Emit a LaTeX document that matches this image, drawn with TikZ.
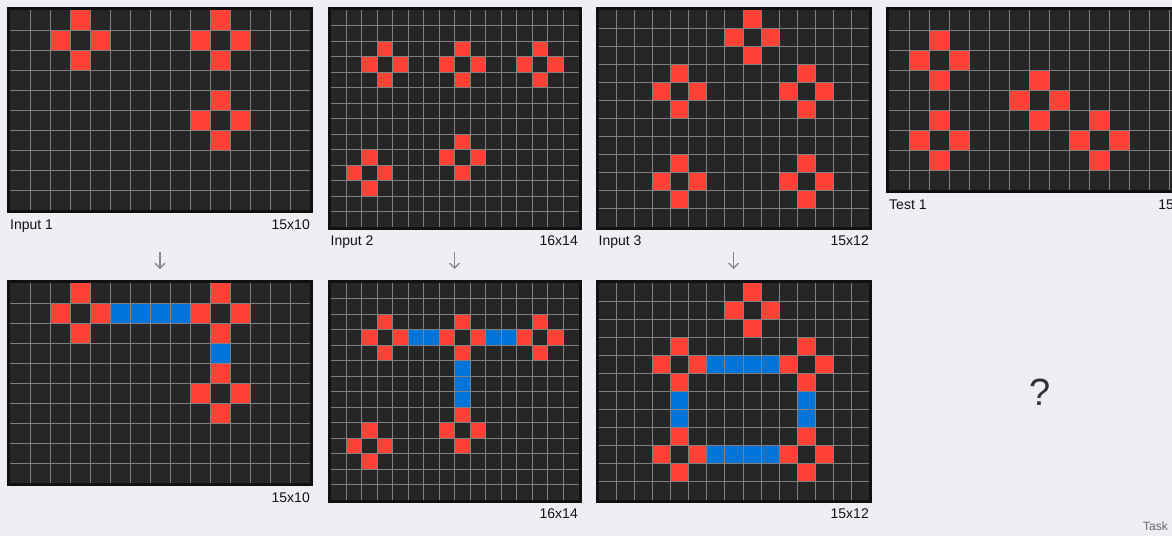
\documentclass[tikz,border=0pt]{standalone}
\usepackage{fontspec}
\setmainfont{Liberation Sans}
\usetikzlibrary{arrows.meta}
\definecolor{bg}{HTML}{EEEEF5}
\definecolor{cellbg}{HTML}{262626}
\definecolor{framec}{HTML}{111111}
\definecolor{gline}{HTML}{808080}
\definecolor{arcred}{HTML}{FF4136}
\definecolor{arcblue}{HTML}{0074D9}
\definecolor{txt}{HTML}{111111}
\definecolor{arrowc}{HTML}{888888}
\tikzset{
  lbl/.style={font=\fontsize{14}{16}\selectfont, text=txt, inner sep=0pt},
  downarrow/.style={draw=arrowc, line width=1.3pt, -{Straight Barb[length=5pt,width=10pt]}},
}
\newcommand\Cell[2]{\fill[arcred] (#2,#1) rectangle ++(1,1);}
\newcommand\Cross[2]{\Cell{#1-1}{#2}\Cell{#1+1}{#2}\Cell{#1}{#2-1}\Cell{#1}{#2+1}}
\newcommand\ArcGrid[7]{%
\begin{scope}[shift={(#2,#3)},x=#4pt,y=-#4pt]
  \coordinate (#1) at (0,0);
  \fill[framec] ([xshift=-3pt,yshift=3pt]0,0) rectangle ([xshift=3pt,yshift=-3pt]#5,#6);
  \fill[cellbg] (0,0) rectangle (#5,#6);
  #7
  \foreach \i in {1,...,#5}{\ifnum\i<#5 \draw[gline,line width=0.8pt] (\i,0) -- (\i,#6);\fi}
  \foreach \j in {1,...,#6}{\ifnum\j<#6 \draw[gline,line width=0.8pt] (0,\j) -- (#5,\j);\fi}
\end{scope}}
\begin{document}
\begin{tikzpicture}[x=1pt,y=-1pt]
\path[use as bounding box, fill=bg] (0,0) rectangle (1172,536);
\clip (0,0) rectangle (1172,536);

% Input 1 / Output 1
\ArcGrid{in1}{10}{10}{20}{15}{10}{\Cross{1}{3}\Cross{1}{10}\Cross{5}{10}}
\ArcGrid{out1}{10}{283}{20}{15}{10}{\Cross{1}{3}\Cross{1}{10}\Cross{5}{10}
  \fill[arcblue] (5,1) rectangle (9,2); \fill[arcblue] (10,3) rectangle (11,4);}
\node[lbl, anchor=base west] (l1) at (10,229) {Input 1};
\node[lbl, anchor=base east] (s1) at (310,229) {15x10};
\node[lbl, anchor=base east] (o1) at (310,502) {15x10};
\coordinate (a1s) at (160,252); \coordinate (a1e) at (160,269);
\draw[downarrow] (a1s) -- (a1e);

% Input 2 / Output 2
\ArcGrid{in2}{330.5}{10}{15.5}{16}{14}{\Cross{3}{3}\Cross{3}{8}\Cross{3}{13}\Cross{9}{8}\Cross{10}{2}}
\ArcGrid{out2}{330.5}{283}{15.5}{16}{14}{\Cross{3}{3}\Cross{3}{8}\Cross{3}{13}\Cross{9}{8}\Cross{10}{2}
  \fill[arcblue] (5,3) rectangle (7,4); \fill[arcblue] (10,3) rectangle (12,4);
  \fill[arcblue] (8,5) rectangle (9,8);}
\node[lbl, anchor=base west] (l2) at (330.5,245) {Input 2};
\node[lbl, anchor=base east] (s2) at (578,245) {16x14};
\node[lbl, anchor=base east] (o2) at (578,518) {16x14};
\coordinate (a2s) at (454.5,252); \coordinate (a2e) at (454.5,269);
\draw[downarrow] (a2s) -- (a2e);

% Input 3 / Output 3
\ArcGrid{in3}{598.5}{10}{18.05}{15}{12}{\Cross{1}{8}\Cross{4}{4}\Cross{4}{11}\Cross{9}{4}\Cross{9}{11}}
\ArcGrid{out3}{598.5}{283}{18.05}{15}{12}{\Cross{1}{8}\Cross{4}{4}\Cross{4}{11}\Cross{9}{4}\Cross{9}{11}
  \fill[arcblue] (6,4) rectangle (10,5); \fill[arcblue] (6,9) rectangle (10,10);
  \fill[arcblue] (4,6) rectangle (5,8); \fill[arcblue] (11,6) rectangle (12,8);}
\node[lbl, anchor=base west] (l3) at (598.5,245) {Input 3};
\node[lbl, anchor=base east] (s3) at (869,245) {15x12};
\node[lbl, anchor=base east] (o3) at (869,518) {15x12};
\coordinate (a3s) at (733.5,252); \coordinate (a3e) at (733.5,269);
\draw[downarrow] (a3s) -- (a3e);

% Test 1
\ArcGrid{test1}{889}{10}{20}{15}{9}{\Cross{2}{2}\Cross{4}{7}\Cross{6}{2}\Cross{6}{10}}
\node[lbl, anchor=base west] (lt) at (889,209) {Test 1};
\node[lbl, anchor=base east] (st) at (1189,209) {15x9};

\node[font=\fontsize{38}{40}\selectfont, text=black!80, inner sep=0pt] (q) at (1040,392) {?};
\node[font=\fontsize{12}{14}\selectfont, text=black!60, inner sep=0pt, anchor=base east] (task) at (1168,530) {Task};
\end{tikzpicture}
\end{document}
